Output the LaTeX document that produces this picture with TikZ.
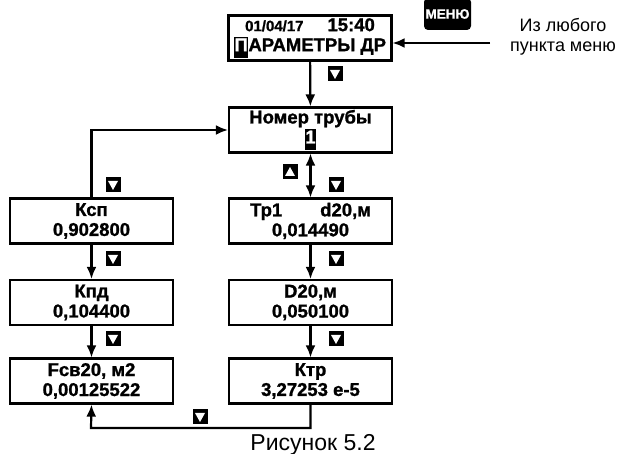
\documentclass[tikz,border=0pt]{standalone}
\usepackage{fontspec}
\setmainfont{Liberation Sans}[BoldFeatures={FakeBold=1.2}]
\usetikzlibrary{arrows.meta}
\newcommand\invch[1]{{\setlength{\fboxsep}{0.6pt}\colorbox{black}{\strut\textcolor{white}{#1}}}}
\begin{document}
\begin{tikzpicture}[x=1pt,y=-1pt,>={Latex[length=12pt,width=10pt]},
	box/.style={draw,line width=2.2pt,minimum width=163pt,minimum height=45pt,inner sep=0pt,align=center,font=\bfseries\fontsize{18.5}{20}\selectfont},
	link/.style={line width=2.2pt,->},
	keydn/.style={fill=black,minimum size=15pt,inner sep=0pt,
		path picture={\fill[white] ([xshift=-5pt,yshift=4pt]path picture bounding box.center) -- ++(10pt,0pt) -- ++(-5pt,-9pt) -- cycle;}},
	keyup/.style={fill=black,minimum size=15pt,inner sep=0pt,
		path picture={\fill[white] ([xshift=-5pt,yshift=-4pt]path picture bounding box.center) -- ++(10pt,0pt) -- ++(-5pt,9pt) -- cycle;}}]
	\useasboundingbox (0,0) rectangle (619,454);
	% screens
	\node[box] (top) at (310,38) {\fontsize{15}{20}\selectfont 01/04/17\hspace{24pt}\fontsize{18.5}{20}\selectfont 15:40\\\invch{П}АРАМЕТРЫ ДР};
	\node[box] (tube) at (310.5,130) {Номер трубы\\\invch{1}};
	\node[box] (tp1) at (310.5,221) {Тр1\hspace{38pt}d20,м\\0,014490};
	\node[box] (d20) at (310.5,302.5) {D20,м\\0,050100};
	\node[box] (ktr) at (310.5,381) {Ктр\\3,27253 е-5};
	\node[box] (ksp) at (91.5,221) {Ксп\\0,902800};
	\node[box] (kpd) at (91.5,302.5) {Кпд\\0,104400};
	\node[box] (fsv) at (91.5,381) {Fсв20, м2\\0,00125522};
	% menu key
	\node[fill=black,rounded corners=4pt,minimum width=47pt,minimum height=32pt,inner sep=0pt,text=white,font=\bfseries\fontsize{13.5}{14}\selectfont] (menu) at (447.5,14) {МЕНЮ};
	\node[align=center,font=\fontsize{18}{20}\selectfont] (anymenu) at (563,37) {Из любого\\пункта меню};
	\coordinate (menuin) at (490,43);
	\draw[link] (menuin) -- (menuin -| top.east);
	% transitions
	\draw[link] (top) -- (tube);
	\draw[link,<->] (tube) -- (tp1);
	\draw[link] (tp1) -- (d20);
	\draw[link] (d20) -- (ktr);
	\draw[link] (ksp) -- (kpd);
	\draw[link] (kpd) -- (fsv);
	\coordinate (loopbot) at (91,428);
	\draw[link] (ktr.south) |- (loopbot) -- (fsv.south);
	\draw[link] (ksp.north) |- (tube.west);
	% keys
	\node[keyup] (kup) at (290,172) {};
	\foreach \n/\x/\y in {1/335/74,2/336/185,3/113/185,4/336/259,5/113/259,6/336/339,7/113/339,8/200/417}
		\node[keydn] (kdn\n) at (\x,\y) {};
	\node[font=\fontsize{23}{24}\selectfont] (caption) at (313,445) {Рисунок 5.2};
\end{tikzpicture}
\end{document}
